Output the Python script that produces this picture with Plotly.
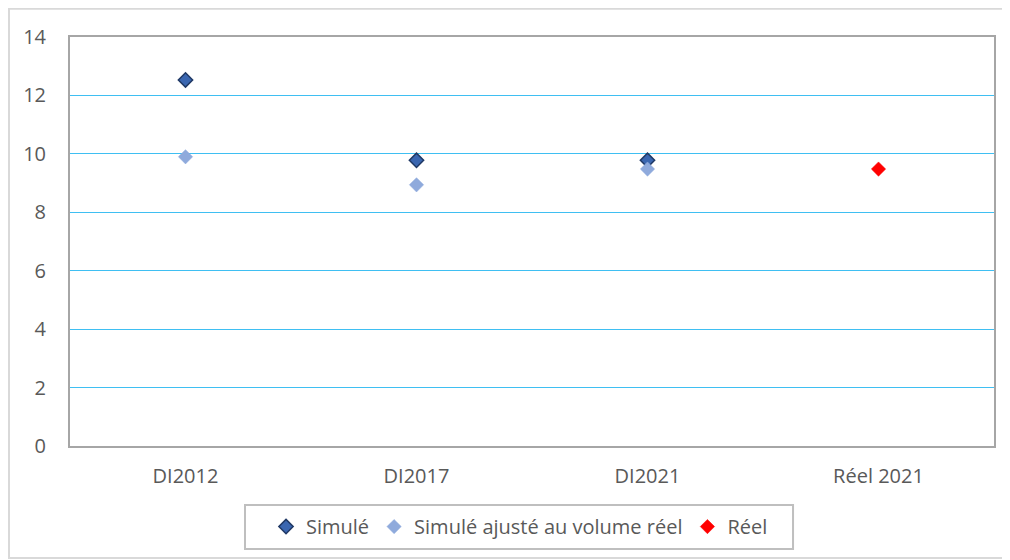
import plotly.graph_objects as go

categories = ["DI2012", "DI2017", "DI2021", "Réel 2021"]
simule = [12.53, 9.78, 9.78, None]
simule_ajuste = [9.9, 8.94, 9.48, None]
reel = [None, None, None, 9.48]
y_ticks = [0, 2, 4, 6, 8, 10, 12, 14]

fig = go.Figure()
fig.add_trace(go.Scatter(
    x=categories, y=simule, mode="markers", name="Simulé",
    marker=dict(symbol="diamond", size=11, color="#3a66b0",
                line=dict(color="#1f3864", width=1.5))))
fig.add_trace(go.Scatter(
    x=categories, y=simule_ajuste, mode="markers", name="Simulé ajusté au volume réel",
    marker=dict(symbol="diamond", size=11, color="#8faadc",
                line=dict(color="#8faadc", width=0.5))))
fig.add_trace(go.Scatter(
    x=categories, y=reel, mode="markers", name="Réel",
    marker=dict(symbol="diamond", size=11, color="#ff0000",
                line=dict(color="#ff0000", width=0.5))))

font = dict(family="Open Sans, Liberation Sans, sans-serif", size=20, color="#595959")

fig.update_layout(
    width=1010, height=560,
    margin=dict(l=62, r=24, t=29, b=122),
    paper_bgcolor="white", plot_bgcolor="white",
    font=font,
    xaxis=dict(type="category", categoryorder="array", categoryarray=categories,
               range=[-0.5, 3.5], showgrid=False, showline=True, linecolor="#a6a6a6",
               linewidth=2, mirror=True, ticks="", tickfont=font, ticklabelstandoff=11,
               fixedrange=True),
    yaxis=dict(range=[0, 14], tickvals=y_ticks, showgrid=True, gridcolor="#3fbff2",
               gridwidth=1.3, showline=True, linecolor="#a6a6a6", linewidth=2, mirror=True,
               zeroline=False, ticks="", ticklabelstandoff=18, tickfont=font),
    showlegend=True,
    legend=dict(orientation="h", x=0.4865, xanchor="center", y=-0.197, yanchor="middle",
                borderwidth=0, bgcolor="rgba(0,0,0,0)",
                font=font, itemwidth=30, traceorder="normal"),
    shapes=[
        dict(type="rect", xref="paper", yref="paper",
             x0=-0.0660, x1=1.0119, y0=-0.274, y1=1.069,
             line=dict(color="#d9d9d9", width=2), layer="below"),
        dict(type="rect", xref="paper", yref="paper",
             x0=0.1894, x1=0.7825, y0=-0.2518, y1=-0.1443,
             line=dict(color="#bfbfbf", width=2), layer="below"),
    ],
)

fig.write_html("out.html")
